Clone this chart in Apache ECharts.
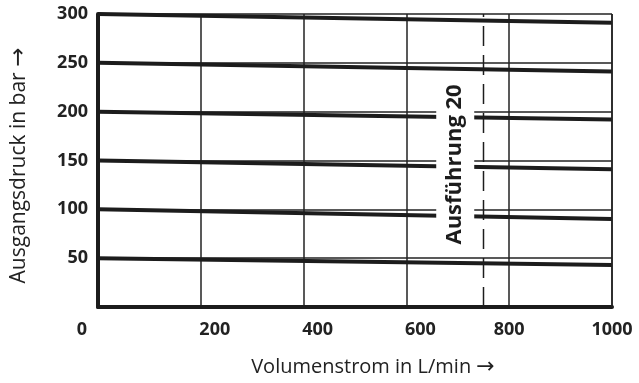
<!DOCTYPE html>
<html>
<head>
  <meta charset="utf-8">
  <title>Ausgangsdruck</title>
  <script src="https://cdn.jsdelivr.net/npm/echarts@6/dist/echarts.min.js"></script>
</head>
<body style="margin:0;">
<div id="main" style="width:639px;height:383px;"></div>
<script>
// Volumenstrom (L/min) an den Enden jeder Kennlinie
var flowEnds = [0, 1000];
// Ausgangsdruck (bar) bei 0 und 1000 L/min
var pressureCurves = [
  [300, 291],
  [250, 241],
  [200, 192],
  [150, 141],
  [100, 90],
  [50, 43]
];
var limitFlow = 750;          // Ausführung 20
var xTicks = [0, 200, 400, 600, 800, 1000];
var yTicks = [50, 100, 150, 200, 250, 300];

var font = 'Open Sans';
var myChart = echarts.init(document.getElementById('main'));

var series = pressureCurves.map(function (p) {
  return {
    type: 'line',
    data: flowEnds.map(function (x, i) { return [x, p[i]]; }),
    symbol: 'none',
    lineStyle: { color: '#1c1c1c', width: 4 },
    z: 3,
    silent: true
  };
});
// gestrichelte Grenze
series.push({
  type: 'line',
  data: [[limitFlow, 0], [limitFlow, 300]],
  symbol: 'none',
  lineStyle: { color: '#1c1c1c', width: 1.5, type: [20, 9] },
  z: 2,
  silent: true
});

var option = {
  animation: false,
  grid: { left: 98, right: 27, top: 14, bottom: 72 },
  xAxis: {
    type: 'value', min: 0, max: 1000, interval: 200,
    name: 'Volumenstrom in L/min {a|\u2192}',
    nameLocation: 'middle', nameGap: 49,
    nameTextStyle: {
      fontFamily: font, fontSize: 20, color: '#222',
      padding: [0, 0, 0, 36],
      rich: { a: { fontFamily: 'DejaVu Sans', fontSize: 22, color: '#222' } }
    },
    axisLine: { lineStyle: { color: '#1c1c1c', width: 4 } },
    axisTick: { show: false },
    axisLabel: {
      margin: 14,
      formatter: function (v) {
        if (v === 0) return '{z|0}';
        if (v >= 800) return '{b|' + v + '}';
        return '{m|' + v + '}';
      },
      rich: {
        z: { fontFamily: font, fontWeight: 'bold', fontSize: 18, color: '#222', padding: [0, 32, 0, 0] },
        m: { fontFamily: font, fontWeight: 'bold', fontSize: 18, color: '#222', padding: [0, 0, 0, 28] },
        b: { fontFamily: font, fontWeight: 'bold', fontSize: 18, color: '#222' }
      }
    },
    splitLine: { show: true, lineStyle: { color: '#222', width: 1.5 } }
  },
  yAxis: {
    type: 'value', min: 0, max: 300, interval: 50,
    name: 'Ausgangsdruck in bar {a|\u2192}',
    nameLocation: 'middle', nameGap: 67,
    nameTextStyle: {
      fontFamily: font, fontSize: 21, color: '#222',
      padding: [0, 10, 0, 0],
      rich: { a: { fontFamily: 'DejaVu Sans', fontSize: 23, color: '#222' } }
    },
    axisLine: { show: true, lineStyle: { color: '#1c1c1c', width: 4 } },
    axisTick: { show: false },
    axisLabel: {
      margin: 10,
      fontFamily: font, fontWeight: 'bold', fontSize: 18, color: '#222',
      formatter: function (v) { return yTicks.indexOf(v) >= 0 ? String(v) : ''; }
    },
    splitLine: { show: true, lineStyle: { color: '#222', width: 1.5 } }
  },
  series: series
};
myChart.setOption(option);

// rechter Rand und Beschriftung
var tr = myChart.convertToPixel({ gridIndex: 0 }, [1000, 300]);
var br = myChart.convertToPixel({ gridIndex: 0 }, [1000, 0]);
var lab = myChart.convertToPixel({ gridIndex: 0 }, [695, 146]);
myChart.setOption({
  graphic: [
    {
      type: 'line', z: 5, silent: true,
      shape: { x1: tr[0], y1: tr[1], x2: br[0], y2: br[1] },
      style: { stroke: '#222', lineWidth: 1.5 }
    },
    {
      type: 'text', z: 10, silent: true,
      x: lab[0], y: lab[1], rotation: Math.PI / 2,
      style: {
        text: 'Ausführung 20',
        fontFamily: font, fontWeight: 'bold', fontSize: 22, fill: '#1c1c1c',
        align: 'center', verticalAlign: 'middle',
        backgroundColor: '#fff', padding: [8, 2]
      }
    }
  ]
});
</script>
</body>
</html>
